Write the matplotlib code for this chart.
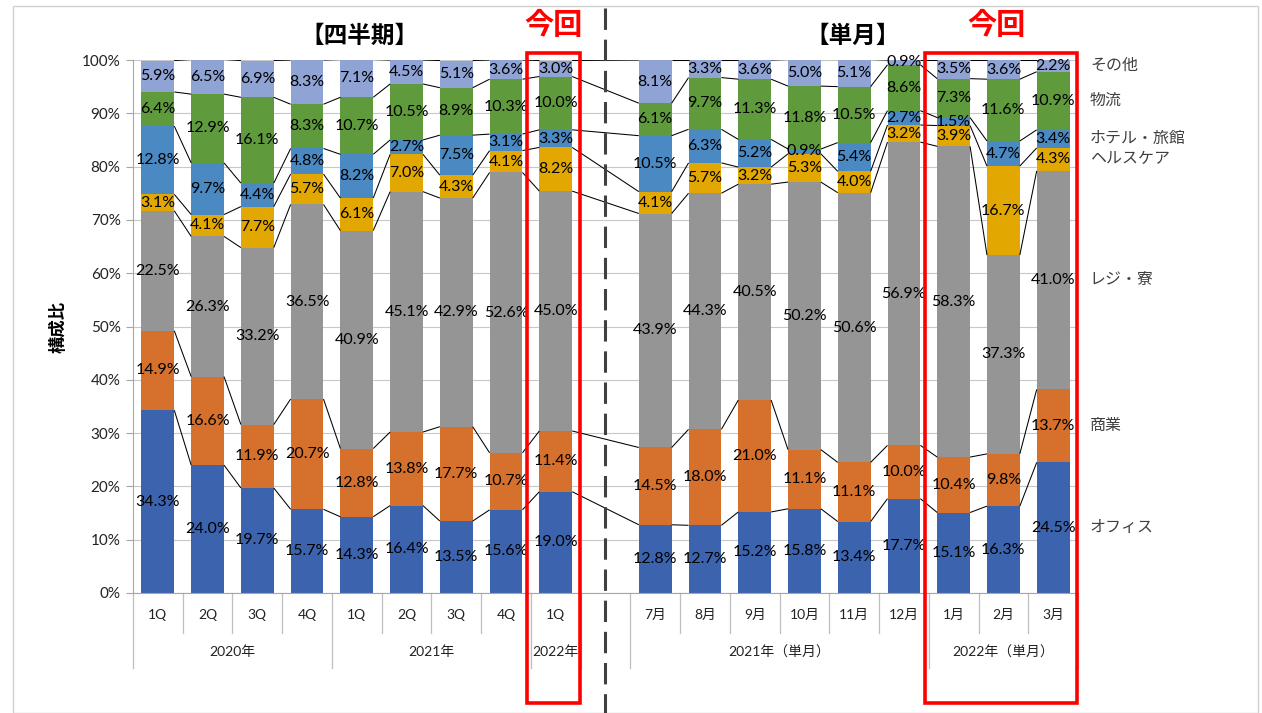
import matplotlib
matplotlib.use("Agg")
import matplotlib.pyplot as plt
from matplotlib.lines import Line2D
from matplotlib.patches import Rectangle
from matplotlib.transforms import blended_transform_factory
import numpy as np

plt.rcParams['font.family'] = ['Lato', 'Noto Sans CJK JP', 'DejaVu Sans']

# ---------------- data ----------------
tick_labels = ['1Q', '2Q', '3Q', '4Q', '1Q', '2Q', '3Q', '4Q', '1Q', '',
               '7月', '8月', '9月', '10月', '11月', '12月', '1月', '2月', '3月']
group_labels = ['2020年', '2021年', '2022年', '2021年（単月）', '2022年（単月）']
group_spans = [(0, 3), (4, 7), (8, 8), (10, 15), (16, 18)]
series_names = ['オフィス', '商業', 'レジ・寮', 'ヘルスケア', 'ホテル・旅館', '物流', 'その他']

office     = [34.3, 24.0, 19.7, 15.7, 14.3, 16.4, 13.5, 15.6, 19.0,
              12.8, 12.7, 15.2, 15.8, 13.4, 17.7, 15.1, 16.3, 24.5]
commercial = [14.9, 16.6, 11.9, 20.7, 12.8, 13.8, 17.7, 10.7, 11.4,
              14.5, 18.0, 21.0, 11.1, 11.1, 10.0, 10.4, 9.8, 13.7]
resi       = [22.5, 26.3, 33.2, 36.5, 40.9, 45.1, 42.9, 52.6, 45.0,
              43.9, 44.3, 40.5, 50.2, 50.6, 56.9, 58.3, 37.3, 41.0]
healthcare = [3.1, 4.1, 7.7, 5.7, 6.1, 7.0, 4.3, 4.1, 8.2,
              4.1, 5.7, 3.2, 5.3, 4.0, 3.2, 3.9, 16.7, 4.3]
hotel      = [12.8, 9.7, 4.4, 4.8, 8.2, 2.7, 7.5, 3.1, 3.3,
              10.5, 6.3, 5.2, 0.9, 5.4, 2.7, 1.5, 4.7, 3.4]
logistics  = [6.4, 12.9, 16.1, 8.3, 10.7, 10.5, 8.9, 10.3, 10.0,
              6.1, 9.7, 11.3, 11.8, 10.5, 8.6, 7.3, 11.6, 10.9]
other      = [5.9, 6.5, 6.9, 8.3, 7.1, 4.5, 5.1, 3.6, 3.0,
              8.1, 3.3, 3.6, 5.0, 5.1, 0.9, 3.5, 3.6, 2.2]

colors = ['#3C64AE', '#D5702D', '#959595', '#E2A700', '#4A89C2', '#5F9A3D', '#8FA3D5']

# x positions of bars (category 9 is an empty gap)
xpos = [i for i in range(19) if i != 9]
series = [office, commercial, resi, healthcare, hotel, logistics, other]

W, H = 1262, 713
fig = plt.figure(figsize=(W / 100, H / 100), dpi=100)
L, R, T, B = 133, 1078, 60, 593
ax = fig.add_axes([L / W, 1 - B / H, (R - L) / W, (B - T) / H])

bw = 0.66
bottoms = np.zeros(len(xpos))
tops_all = []
for vals, col in zip(series, colors):
    v = np.array(vals)
    ax.bar(xpos, v / 100, bw, bottom=bottoms / 100, color=col, zorder=2)
    for x, b, val in zip(xpos, bottoms, v):
        ax.text(x, (b + val / 2) / 100, f'{val:.1f}%', ha='center', va='center',
                fontsize=11.5, color='black', zorder=4)
    bottoms = bottoms + v
    tops_all.append(bottoms.copy())

# series lines
for tops in tops_all:
    for k in range(len(xpos) - 1):
        ax.plot([xpos[k] + bw / 2, xpos[k + 1] - bw / 2],
                [tops[k] / 100, tops[k + 1] / 100],
                color='black', lw=0.75, zorder=3, solid_capstyle='butt')

# series name labels on right of last bar
prev = 0
for name, vals in zip(series_names, series):
    mid = prev + vals[-1] / 2
    prev += vals[-1]
    ax.text(18.74, mid / 100, name, ha='left', va='center', fontsize=11.5,
            color='#404040', clip_on=False)

ax.set_xlim(-0.5, 18.5)
ax.set_ylim(0, 1)
ax.set_yticks(np.arange(0, 1.01, 0.1))
ax.set_yticklabels([f'{int(round(t * 100))}%' for t in np.arange(0, 1.01, 0.1)],
                   fontsize=11, color='#222222')
ax.yaxis.grid(True, color='#c8c8c8', lw=0.8, zorder=0)
ax.set_axisbelow(True)
ax.set_xticks([])
for s in ['top', 'right']:
    ax.spines[s].set_visible(False)
ax.spines['left'].set_color('#a6a6a6')
ax.spines['bottom'].set_color('#a6a6a6')
ax.tick_params(axis='y', length=5, color='#a6a6a6', direction='out', pad=4)
ax.set_ylabel('構成比', fontsize=12.5, fontweight='bold', labelpad=11)

# category axis (multi-level)
tr = blended_transform_factory(ax.transData, ax.transAxes)
y_tick = (B - 615) / (B - T)
y_grp = (B - 652) / (B - T)
y_short = (B - 633) / (B - T)
y_long = (B - 668) / (B - T)
for i, lab in enumerate(tick_labels):
    if lab:
        ax.text(i, y_tick, lab, transform=tr, ha='center', va='center',
                fontsize=10, color='#222222', clip_on=False)
long_b = {-0.5, 3.5, 7.5, 8.5, 9.5, 15.5, 18.5}
for k in range(20):
    bx = k - 0.5
    yb = y_long if bx in long_b else y_short
    ax.add_line(Line2D([bx, bx], [0, yb], transform=tr, color='#bfbfbf',
                       lw=0.9, clip_on=False))
for lab, (a, b) in zip(group_labels, group_spans):
    ax.text((a + b) / 2, y_grp, lab, transform=tr, ha='center', va='center',
            fontsize=10, color='#222222', clip_on=False)

# figure-level decorations
def fx(px):
    return px / W

def fy(py):
    return 1 - py / H

fig.patches.append(Rectangle((fx(12.5), fy(713)), fx(1257.5) - fx(12.5), fy(5.5) - fy(713),
                             transform=fig.transFigure, fill=False,
                             edgecolor='#d0d0d0', lw=1.0))
fig.text(fx(359), fy(35), '【四半期】', ha='center', va='center', fontsize=17,
         fontweight='bold', color='black')
fig.text(fx(853), fy(35), '【単月】', ha='center', va='center', fontsize=17,
         fontweight='bold', color='black')
fig.text(fx(553), fy(25), '今回', ha='center', va='center', fontsize=21,
         fontweight='bold', color='#ff0000')
fig.text(fx(996), fy(25), '今回', ha='center', va='center', fontsize=21,
         fontweight='bold', color='#ff0000')

fig.lines.append(Line2D([fx(605), fx(605)], [fy(8), fy(713)], transform=fig.transFigure,
                        color='#404040', lw=2.2, linestyle=(0, (7, 3.2))))

for (x0, x1) in [(527, 580), (925, 1077)]:
    fig.patches.append(Rectangle((fx(x0), fy(703)), fx(x1) - fx(x0), fy(53) - fy(703),
                                 transform=fig.transFigure, fill=False,
                                 edgecolor='#ff0000', lw=2.6, zorder=10))

fig.savefig('out.png', dpi=100)
